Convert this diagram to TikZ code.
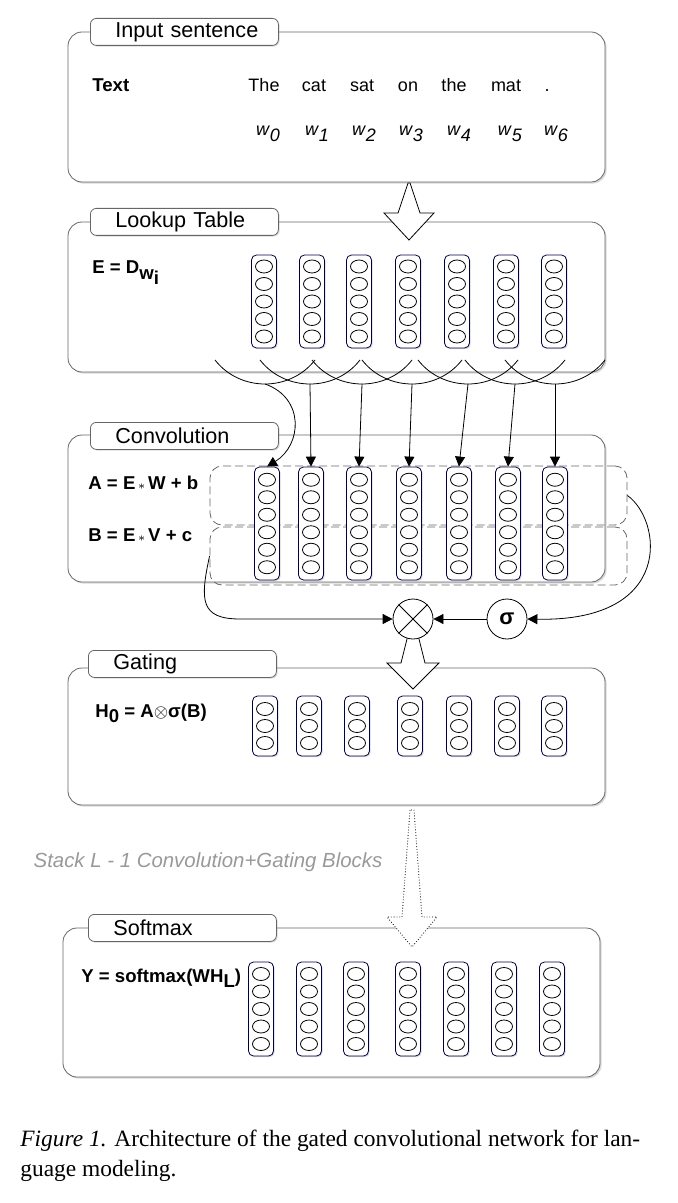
\documentclass[tikz,border=0pt]{standalone}
\usepackage{fontspec}
\setmainfont{Liberation Serif}
\setsansfont{Liberation Sans}
\usetikzlibrary{positioning,fit,shadows,shapes.geometric,arrows.meta,calc}

\newcommand\wsub[1]{\textit{w}\raisebox{-.6ex}{\textit{#1}}}
\tikzset{
  every node/.style={font=\sffamily\fontsize{9}{10}\selectfont},
  panel/.style={draw=black!60, fill=white, rounded corners=7pt, inner sep=0pt,
    drop shadow={shadow xshift=.8pt, shadow yshift=-.8pt, opacity=.3}},
  tab/.style={draw=black!60, fill=white, rounded corners=3pt, anchor=north west,
    minimum height=13.5pt, text width=80pt, inner xsep=7pt, inner ysep=0pt,
    align=left, font=\sffamily\fontsize{10.8}{11}\selectfont,
    execute at begin node={\hspace*{5.5pt}},
    drop shadow={shadow xshift=.6pt, shadow yshift=-.6pt, opacity=.3}},
  gatebox/.style={draw=black!60, dash pattern=on 4pt off 2pt, rounded corners=6pt, inner sep=0pt},
  vcol/.style={draw=blue!25!black, fill=white, rounded corners=2.5pt, minimum width=12.5pt, inner sep=0pt,
    drop shadow={shadow xshift=.6pt, shadow yshift=-.6pt, opacity=.3}},
  unit/.style={draw, ellipse, minimum width=8.5pt, minimum height=6.5pt, inner sep=0pt},
  eq/.style={font=\sffamily\bfseries\fontsize{9.3}{10}\selectfont, anchor=base west, inner sep=0pt},
  op/.style={draw, circle, minimum size=20pt, inner sep=0pt, fill=white},
  link/.style={-{Triangle[length=5pt,width=5pt]}},
  bigarrow/.style={draw, fill=white, line join=miter},
}

\begin{document}
\begin{tikzpicture}[x=0.5pt, y=-0.5pt]
\useasboundingbox (0,0) rectangle (678,1203);

% input sentence
\node[panel, fit={(68,32) (605,182)}] (inbox) {};
\node[tab] (intab) at (90,18) {Input sentence};
\node[eq] (txt) at (92,92) {Text};
\foreach \w/\x/\y [count=\i from 0] in {The/264/268, cat/314/317, sat/362/364, on/408/411, the/454/459, mat/506/510, ./547/556} {
  \node[anchor=base] (word\i) at (\x,92) {\w};
  \node[anchor=base] (w\i) at (\y,136) {\wsub{\i}};
}

% lookup table
\node[panel, fit={(68,222) (605,372)}] (lookbox) {};
\node[tab] (looktab) at (90,208) {Lookup Table};
\node[eq] (lookeq) at (92,274) {E = D\raisebox{-.6ex}{w\raisebox{-.5ex}{i}}};
\coordinate (a1) at (409,183);
\draw[bigarrow] ($(a1)+(-1,0)$) -- ++(-10,30) -- ++(-14,0) -- ++(25,27) -- ++(25,-27) -- ++(-14,0) -- ++(-10,-30) -- cycle;
\foreach \x [count=\i] in {264,312,359,408,457,506,554} {
  \node[vcol, minimum height=46.5pt] (look\i) at (\x,301.5) {};
  \foreach \k in {1,...,5}
    \node[unit] (look\i-\k) at (\x,{301.5+(\k-3)*17.5}) {};
}
\foreach \s [count=\i] in {265,310,362,412,468,515,555} {
  \draw (\s-50,360) .. controls (\s-25,392) and (\s+25,392) .. (\s+50,360);
  \coordinate (arc\i) at (\s,384);
}

% convolution
\node[panel, fit={(68,435) (605,582)}] (convbox) {};
\node[tab] (convtab) at (90,422) {Convolution};
\node[gatebox, fit={(210,466) (627,525)}] (abox) {};
\node[gatebox, fit={(210,527) (627,585)}] (bbox) {};
\node[eq] (aeq) at (88,489) {A = E{\mdseries\fontsize{6}{6}\selectfont$\,\ast\,$}W + b};
\node[eq] (beq) at (88,541) {B = E{\mdseries\fontsize{6}{6}\selectfont$\,\ast\,$}V + c};
\foreach \x [count=\i] in {267,311,359,409,459,508,555} {
  \node[vcol, minimum height=56.5pt] (conv\i) at (\x,523.5) {};
  \foreach \k in {1,...,6}
    \node[unit] (conv\i-\k) at (\x,{523.5+(\k-3.5)*17.5}) {};
}
\draw[link] (arc1) .. controls (305,398) and (302,445) .. (conv1.north);
\foreach \i in {2,...,7}
  \draw[link] (arc\i) -- (conv\i.north);

% gating
\node[panel, fit={(68,668) (605,805)}] (gatebox) {};
\node[tab] (gatetab) at (88,650) {Gating};
\node[eq] (geq) at (95,717) {H\raisebox{-.6ex}{0} = A{\mdseries$\otimes$}σ(B)};
\coordinate (a2) at (413,619);
\draw[bigarrow] ($(a2)+(-1,0)$) -- ++(-11,44) -- ++(-14,0) -- ++(26,26) -- ++(26,-26) -- ++(-14,0) -- ++(-11,-44) -- cycle;
\foreach \x [count=\i] in {265,309,357,410,459,507,554} {
  \node[vcol, minimum height=30pt] (gate\i) at (\x,726) {};
  \foreach \k in {1,...,3}
    \node[unit] (gate\i-\k) at (\x,{726+(\k-2)*17}) {};
}
\node[op] (mult) at (413,619) {};
\draw (mult.north east) -- (mult.south west) (mult.north west) -- (mult.south east);
\node[op, font=\sffamily\bfseries\fontsize{11}{12}\selectfont] (sig) at (507,619) {σ};
\draw[link] (sig) -- (mult);
\draw[link] (abox.east) .. controls (662,520) and (675,622) .. (sig.east);
\draw[link] (bbox.west) .. controls (200,600) and (200,619) .. (240,619) -- (mult.west);

% stacked blocks
\node[font=\sffamily\itshape\fontsize{10.2}{11}\selectfont, text=black!40] (stack) at (208,862) {Stack L - 1 Convolution+Gating Blocks};

% softmax
\node[panel, fit={(63,928) (600,1077)}] (softbox) {};
\node[tab] (softtab) at (88,914) {Softmax};
\node[eq] (seq) at (81,982) {Y = softmax(WH\raisebox{-.6ex}{L})};
\coordinate (a3) at (412,810);
\draw[bigarrow, densely dotted] ($(a3)+(-2,0)$) -- ++(-8,107) -- ++(-15,0) -- ++(25,30) -- ++(25,-30) -- ++(-15,0) -- ++(-8,-107) -- cycle;
\foreach \x [count=\i] in {261,309,356,408,456,504,552} {
  \node[vcol, minimum height=47pt] (soft\i) at (\x,1009) {};
  \foreach \k in {1,...,5}
    \node[unit] (soft\i-\k) at (\x,{1009+(\k-3)*17.5}) {};
}

% caption
\node[anchor=base west, align=left, inner sep=0pt, font=\rmfamily\fontsize{11.7}{15}\selectfont] (cap) at (20,1176)
  {\textit{Figure 1.} Architecture of the gated convolutional network for lan-\\guage modeling.};
\end{tikzpicture}
\end{document}
